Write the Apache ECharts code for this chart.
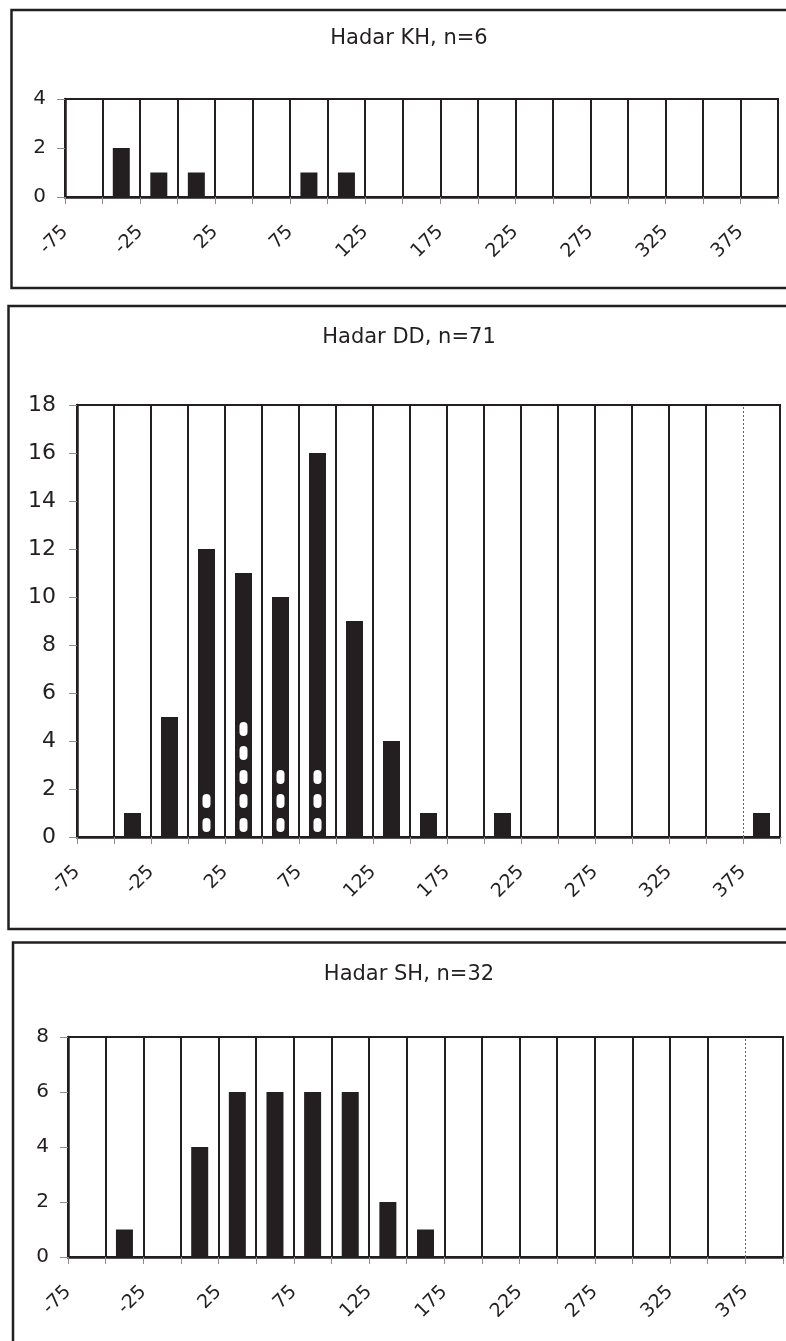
<!DOCTYPE html>
<html>
<head>
<meta charset="utf-8">
<title>Hadar histograms</title>
<script src="https://cdn.jsdelivr.net/npm/echarts@6/dist/echarts.min.js"></script>
<style>
  html, body { margin: 0; padding: 0; background: #fff; }
  #chart { width: 786px; height: 1341px; }
</style>
</head>
<body>
<div id="chart"></div>
<script>
// lower edge of each 25-wide bin
const binStarts = [-75, -50, -25, 0, 25, 50, 75, 100, 125, 150, 175, 200, 225, 250, 275, 300, 325, 350, 375];
const xTickLabels = ['-75', '-25', '25', '75', '125', '175', '225', '275', '325', '375'];

const khCounts = [0, 2, 1, 1, 0, 0, 1, 1, 0, 0, 0, 0, 0, 0, 0, 0, 0, 0, 0];
const ddCounts = [0, 1, 5, 12, 11, 10, 16, 9, 4, 1, 0, 1, 0, 0, 0, 0, 0, 0, 1];
// white dashes drawn inside some DD bars
const ddMarked = [0, 0, 0, 2, 5, 3, 3, 0, 0, 0, 0, 0, 0, 0, 0, 0, 0, 0, 0];
const shCounts = [0, 1, 0, 4, 6, 6, 6, 6, 2, 1, 0, 0, 0, 0, 0, 0, 0, 0, 0];

const titles = ['Hadar KH, n=6', 'Hadar DD, n=71', 'Hadar SH, n=32'];
const yMax = [4, 18, 8];

const dark = '#231f20';
const tickGray = '#8c8c8c';
const font = "'DejaVu Sans', Verdana, sans-serif";
const binW = binStarts[1] - binStarts[0];
const xMax = binStarts[binStarts.length - 1] + binW;

const grids = [
  { left: 65, top: 99, width: 713, height: 98 },
  { left: 77, top: 405, width: 703, height: 432 },
  { left: 68, top: 1037, width: 715, height: 220 }
];
const titleTop = [23, 322, 959];
const yFont = [20, 22, 20];
const yMargin = [19, 21, 19];
const dottedLast = [false, true, true];

const capsule = 'path://M0,4A4,4,0,0,1,8,4L8,10A4,4,0,0,1,0,10Z';

function pairs(counts, skipZero) {
  return binStarts.map((s, k) => [s + binW / 2, (skipZero && !counts[k]) ? '-' : counts[k]]);
}

function splitColors(dotted) {
  const c = [];
  for (let v = binStarts[0]; v <= xMax; v += binW) {
    c.push(dotted && v === binStarts[binStarts.length - 1] ? 'rgba(0,0,0,0)' : dark);
  }
  return c;
}

const option = {
  animation: false,
  backgroundColor: '#fff',
  title: titles.map((t, i) => ({
    text: t,
    left: 404,
    textAlign: 'center',
    top: titleTop[i],
    textStyle: { fontFamily: font, fontSize: 21, fontWeight: 'normal', color: dark }
  })),
  grid: grids.map(g => Object.assign({
    show: true,
    borderColor: dark,
    borderWidth: 2,
    backgroundColor: 'rgba(0,0,0,0)'
  }, g)),
  xAxis: grids.map((g, i) => ({
    type: 'value',
    gridIndex: i,
    min: binStarts[0],
    max: xMax,
    interval: binW,
    axisLine: { onZero: false, lineStyle: { color: dark, width: 2.5 } },
    axisTick: { show: true, length: 7, lineStyle: { color: tickGray, width: 1 } },
    axisLabel: {
      rotate: 45,
      margin: 32,
      fontSize: 19,
      fontFamily: font,
      color: dark,
      formatter: v => xTickLabels.indexOf(String(v)) >= 0 ? String(v) : ''
    },
    splitLine: { show: true, lineStyle: { color: splitColors(dottedLast[i]), width: 2 } }
  })),
  yAxis: grids.map((g, i) => ({
    type: 'value',
    gridIndex: i,
    min: 0,
    max: yMax[i],
    interval: 2,
    axisLine: { show: true, onZero: false, lineStyle: { color: dark, width: 2.5 } },
    axisTick: { show: true, length: 8, lineStyle: { color: tickGray, width: 1 } },
    axisLabel: { margin: yMargin[i], fontSize: yFont[i], fontFamily: font, color: dark },
    splitLine: { show: false }
  })),
  graphic: [
    { type: 'rect', shape: { x: 11.5, y: 10, width: 820, height: 278 }, style: { fill: 'none', stroke: dark, lineWidth: 2.5 } },
    { type: 'rect', shape: { x: 8.5, y: 306, width: 820, height: 623 }, style: { fill: 'none', stroke: dark, lineWidth: 2.5 } },
    { type: 'rect', shape: { x: 13, y: 942.5, width: 820, height: 460 }, style: { fill: 'none', stroke: dark, lineWidth: 2.5 } }
  ],
  series: [
    { type: 'bar', xAxisIndex: 0, yAxisIndex: 0, barWidth: 17, itemStyle: { color: dark }, data: pairs(khCounts) },
    {
      type: 'bar', xAxisIndex: 1, yAxisIndex: 1, barWidth: 17, itemStyle: { color: dark }, data: pairs(ddCounts),
      markLine: {
        silent: true, symbol: 'none', label: { show: false },
        lineStyle: { color: '#666', type: [2, 2], width: 1 },
        data: [{ xAxis: binStarts[binStarts.length - 1] }]
      }
    },
    {
      type: 'pictorialBar', xAxisIndex: 1, yAxisIndex: 1,
      symbol: capsule, symbolSize: [8, 14], symbolRepeat: true, symbolMargin: '5!',
      symbolPosition: 'start', itemStyle: { color: '#fff' }, z: 5,
      data: pairs(ddMarked, true)
    },
    {
      type: 'bar', xAxisIndex: 2, yAxisIndex: 2, barWidth: 17, itemStyle: { color: dark }, data: pairs(shCounts),
      markLine: {
        silent: true, symbol: 'none', label: { show: false },
        lineStyle: { color: '#666', type: [2, 2], width: 1 },
        data: [{ xAxis: binStarts[binStarts.length - 1] }]
      }
    }
  ]
};

const chart = echarts.init(document.getElementById('chart'));
chart.setOption(option);
</script>
</body>
</html>
